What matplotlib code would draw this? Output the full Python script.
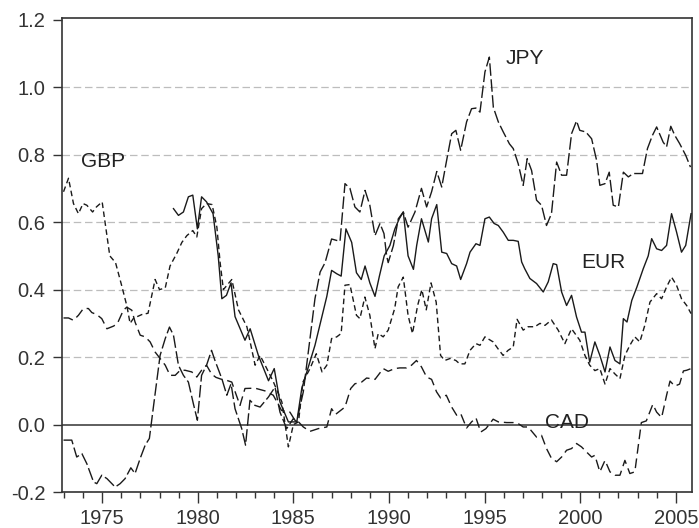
import matplotlib
matplotlib.use("Agg")
import matplotlib.pyplot as plt
from matplotlib.ticker import MultipleLocator, FixedLocator

plt.rcParams['font.family'] = ['Liberation Sans', 'DejaVu Sans']

# values
gbp_years = [1972.98, 1973.24, 1973.5, 1973.76, 1974.0, 1974.2, 1974.5, 1974.7, 1975.0, 1975.4,
             1975.7, 1976.03, 1976.3, 1976.46, 1976.64, 1977.07, 1977.4, 1977.77, 1978.0, 1978.3,
             1978.55, 1978.9, 1979.17, 1979.43, 1979.74, 1979.95, 1980.2, 1980.46, 1980.75, 1981.0,
             1981.17, 1981.34, 1981.78, 1982.13, 1982.57, 1983.0, 1983.26, 1983.7, 1983.96, 1984.4,
             1984.74, 1985.0, 1985.27, 1985.5, 1985.87, 1986.2, 1986.5, 1986.75, 1987.0, 1987.27,
             1987.5, 1987.7, 1987.96, 1988.3, 1988.48, 1988.74, 1989.0, 1989.27, 1989.44, 1989.7,
             1989.96, 1990.3, 1990.48, 1990.75, 1991.0, 1991.23, 1991.5, 1991.72, 1991.95, 1992.2,
             1992.47, 1992.7, 1992.92, 1993.2, 1993.5, 1993.7, 1993.97, 1994.24, 1994.55, 1994.76,
             1995.02, 1995.45, 1995.7, 1995.97, 1996.23, 1996.5, 1996.7, 1997.02, 1997.28, 1997.63,
             1997.9, 1998.16, 1998.5, 1998.85, 1999.2, 1999.55, 1999.98, 2000.25, 2000.5, 2000.77,
             2001.03, 2001.3, 2001.56, 2001.82, 2002.08, 2002.34, 2002.6, 2002.86, 2003.12, 2003.38,
             2003.65, 2004.0, 2004.26, 2004.52, 2004.78, 2005.04, 2005.3, 2005.57, 2005.8]
gbp = [0.69, 0.73, 0.655, 0.625, 0.655, 0.65, 0.63, 0.645, 0.66, 0.50,
       0.48, 0.41, 0.35, 0.30, 0.315, 0.326, 0.33, 0.43, 0.40, 0.405,
       0.47, 0.507, 0.54, 0.56, 0.575, 0.556, 0.64, 0.655, 0.652, 0.585,
       0.48, 0.40, 0.43, 0.34, 0.29, 0.176, 0.205, 0.156, 0.126, 0.067,
       -0.066, 0.0, 0.008, 0.126, 0.166, 0.21, 0.156, 0.176, 0.255, 0.26,
       0.27, 0.413, 0.415, 0.324, 0.314, 0.378, 0.324, 0.225, 0.27, 0.26,
       0.28, 0.344, 0.408, 0.437, 0.324, 0.27, 0.353, 0.40, 0.34, 0.42,
       0.363, 0.205, 0.19, 0.196, 0.19, 0.18, 0.18, 0.22, 0.24, 0.235,
       0.26, 0.245, 0.225, 0.205, 0.22, 0.23, 0.312, 0.28, 0.29, 0.29,
       0.30, 0.294, 0.31, 0.28, 0.24, 0.284, 0.25, 0.205, 0.176, 0.16,
       0.166, 0.12, 0.166, 0.15, 0.136, 0.205, 0.235, 0.26, 0.245, 0.294,
       0.363, 0.388, 0.373, 0.408, 0.437, 0.413, 0.373, 0.353, 0.329]

eur_years = [1978.73, 1978.99, 1979.25, 1979.51, 1979.74, 1979.98, 1980.2, 1980.46, 1980.8, 1981.07,
             1981.26, 1981.5, 1981.74, 1981.95, 1982.47, 1982.74, 1983.17, 1983.7, 1984.0, 1984.3,
             1984.74, 1985.18, 1985.44, 1986.13, 1986.75, 1987.0, 1987.27, 1987.5, 1987.75, 1988.05,
             1988.3, 1988.55, 1988.75, 1989.0, 1989.27, 1989.5, 1989.75, 1990.05, 1990.31, 1990.54,
             1990.75, 1991.0, 1991.28, 1991.45, 1991.7, 1992.06, 1992.23, 1992.5, 1992.76, 1993.02,
             1993.28, 1993.54, 1993.75, 1994.06, 1994.24, 1994.55, 1994.76, 1995.02, 1995.25, 1995.5,
             1995.72, 1995.98, 1996.24, 1996.5, 1996.76, 1996.94, 1997.1, 1997.37, 1997.72, 1998.07,
             1998.33, 1998.59, 1998.77, 1999.03, 1999.29, 1999.55, 1999.81, 2000.07, 2000.25, 2000.5,
             2000.77, 2001.03, 2001.3, 2001.56, 2001.82, 2002.08, 2002.26, 2002.45, 2002.7, 2002.97,
             2003.3, 2003.56, 2003.74, 2004.0, 2004.26, 2004.52, 2004.78, 2005.04, 2005.3, 2005.52,
             2005.8]
eur = [0.64, 0.62, 0.63, 0.675, 0.68, 0.58, 0.675, 0.66, 0.625, 0.50,
       0.373, 0.383, 0.42, 0.32, 0.25, 0.284, 0.205, 0.13, 0.166, 0.067,
       0.008, 0.008, 0.107, 0.235, 0.38, 0.457, 0.447, 0.44, 0.58, 0.54,
       0.45, 0.43, 0.47, 0.42, 0.38, 0.44, 0.50, 0.531, 0.58, 0.61,
       0.63, 0.50, 0.46, 0.531, 0.61, 0.541, 0.61, 0.652, 0.511, 0.507,
       0.477, 0.47, 0.43, 0.477, 0.511, 0.536, 0.531, 0.61, 0.615, 0.596,
       0.59, 0.57, 0.546, 0.546, 0.543, 0.482, 0.462, 0.433, 0.418, 0.393,
       0.423, 0.477, 0.474, 0.393, 0.353, 0.383, 0.319, 0.274, 0.274, 0.185,
       0.245, 0.205, 0.156, 0.23, 0.19, 0.18, 0.314, 0.304, 0.368, 0.408,
       0.462, 0.50, 0.551, 0.521, 0.516, 0.531, 0.625, 0.571, 0.511, 0.531,
       0.625]

jpy_years = [1972.98, 1973.41, 1973.67, 1973.94, 1974.2, 1974.55, 1974.72, 1974.98, 1975.25, 1975.68,
             1975.94, 1976.2, 1976.5, 1976.72, 1976.99, 1977.25, 1977.47, 1977.68, 1978.03, 1978.3,
             1978.52, 1978.73, 1978.99, 1979.25, 1979.51, 1979.77, 1979.98, 1980.2, 1980.46, 1980.72,
             1980.9, 1981.26, 1981.52, 1981.74, 1981.95, 1982.3, 1982.5, 1982.73, 1982.99, 1983.26,
             1983.7, 1984.04, 1984.3, 1984.65, 1985.0, 1985.17, 1985.52, 1985.87, 1986.13, 1986.4,
             1986.66, 1987.0, 1987.44, 1987.7, 1987.96, 1988.22, 1988.48, 1988.75, 1989.0, 1989.27,
             1989.53, 1989.74, 1989.88, 1989.96, 1990.23, 1990.49, 1990.75, 1991.0, 1991.36, 1991.7,
             1991.97, 1992.23, 1992.5, 1992.76, 1993.0, 1993.28, 1993.5, 1993.75, 1994.06, 1994.32,
             1994.55, 1994.76, 1995.02, 1995.25, 1995.46, 1995.72, 1995.98, 1996.3, 1996.5, 1996.76,
             1997.02, 1997.23, 1997.46, 1997.72, 1997.98, 1998.24, 1998.5, 1998.77, 1999.03, 1999.29,
             1999.55, 1999.81, 1999.98, 2000.3, 2000.6, 2000.86, 2001.03, 2001.3, 2001.52, 2001.73,
             2002.0, 2002.26, 2002.52, 2002.78, 2003.26, 2003.52, 2003.78, 2004.0, 2004.34, 2004.52,
             2004.74, 2004.95, 2005.2, 2005.52, 2005.77]
jpy = [-0.046, -0.046, -0.096, -0.086, -0.116, -0.17, -0.175, -0.15, -0.16, -0.185,
       -0.175, -0.16, -0.128, -0.145, -0.10, -0.061, -0.041, 0.052, 0.205, 0.255,
       0.289, 0.265, 0.176, 0.146, 0.126, 0.062, 0.013, 0.146, 0.176, 0.22,
       0.19, 0.136, 0.087, 0.121, 0.047, -0.012, -0.061, 0.072, 0.057, 0.052,
       0.082, 0.111, 0.037, -0.012, 0.018, 0.008, 0.097, 0.255, 0.373, 0.452,
       0.48, 0.55, 0.543, 0.714, 0.70, 0.645, 0.63, 0.694, 0.65, 0.56,
       0.596, 0.566, 0.50, 0.48, 0.53, 0.61, 0.63, 0.585, 0.63, 0.70,
       0.645, 0.69, 0.75, 0.704, 0.778, 0.862, 0.872, 0.813, 0.897, 0.936,
       0.938, 0.926, 1.045, 1.089, 0.94, 0.897, 0.867, 0.832, 0.818, 0.773,
       0.709, 0.788, 0.753, 0.665, 0.65, 0.59, 0.625, 0.778, 0.739, 0.739,
       0.862, 0.90, 0.872, 0.867, 0.847, 0.783, 0.709, 0.714, 0.748, 0.65,
       0.645, 0.748, 0.734, 0.744, 0.744, 0.818, 0.857, 0.882, 0.837, 0.823,
       0.884, 0.857, 0.833, 0.798, 0.763]

cad_years = [1972.98, 1973.24, 1973.5, 1973.76, 1974.02, 1974.28, 1974.46, 1974.72, 1974.98, 1975.25,
             1975.6, 1975.8, 1976.11, 1976.29, 1976.55, 1976.72, 1976.99, 1977.25, 1977.51, 1977.77,
             1978.03, 1978.3, 1978.55, 1978.82, 1979.08, 1979.34, 1979.69, 1979.95, 1980.2, 1980.46,
             1980.72, 1980.95, 1981.2, 1981.52, 1981.78, 1982.0, 1982.21, 1982.47, 1982.99, 1983.51,
             1983.95, 1984.38, 1984.82, 1985.08, 1985.27, 1985.52, 1985.87, 1986.3, 1986.75, 1987.0,
             1987.2, 1987.7, 1988.0, 1988.22, 1988.57, 1988.83, 1989.1, 1989.27, 1989.7, 1989.96,
             1990.3, 1990.57, 1990.92, 1991.18, 1991.44, 1991.7, 1991.97, 1992.23, 1992.49, 1992.7,
             1993.0, 1993.28, 1993.54, 1993.75, 1994.06, 1994.32, 1994.55, 1994.8, 1995.07, 1995.45,
             1995.72, 1996.16, 1996.5, 1996.76, 1997.02, 1997.28, 1997.72, 1997.98, 1998.24, 1998.5,
             1998.77, 1999.03, 1999.29, 1999.55, 1999.81, 2000.07, 2000.33, 2000.6, 2000.77, 2001.03,
             2001.3, 2001.56, 2001.82, 2002.08, 2002.34, 2002.6, 2002.86, 2003.2, 2003.46, 2003.8,
             2004.0, 2004.26, 2004.52, 2004.7, 2004.95, 2005.2, 2005.4, 2005.57, 2005.8]
cad = [0.316, 0.316, 0.309, 0.324, 0.344, 0.344, 0.332, 0.326, 0.314, 0.284,
       0.292, 0.30, 0.339, 0.348, 0.339, 0.304, 0.265, 0.26, 0.245, 0.215,
       0.196, 0.176, 0.146, 0.146, 0.161, 0.161, 0.156, 0.141, 0.161, 0.176,
       0.15, 0.14, 0.135, 0.131, 0.126, 0.09, 0.057, 0.107, 0.108, 0.10,
       0.087, 0.042, 0.037, 0.013, 0.008, -0.007, -0.02, -0.012, -0.007, 0.047,
       0.03, 0.052, 0.107, 0.121, 0.126, 0.138, 0.136, 0.134, 0.166, 0.158,
       0.166, 0.168, 0.168, 0.176, 0.19, 0.171, 0.141, 0.134, 0.097, 0.079,
       0.087, 0.052, 0.028, 0.033, -0.01, 0.008, 0.02, -0.022, -0.012, 0.016,
       0.008, 0.006, 0.006, 0.003, -0.007, -0.007, -0.037, -0.032, -0.071, -0.10,
       -0.11, -0.096, -0.076, -0.071, -0.056, -0.066, -0.081, -0.096, -0.091, -0.14,
       -0.106, -0.14, -0.15, -0.15, -0.106, -0.145, -0.14, 0.006, 0.011, 0.06,
       0.037, 0.021, 0.087, 0.129, 0.114, 0.12, 0.159, 0.161, 0.166]

y_ticks = [-0.2, 0.0, 0.2, 0.4, 0.6, 0.8, 1.0, 1.2]
y_labels = ['-0.2', '0.0', '0.2', '0.4', '0.6', '0.8', '1.0', '1.2']
x_ticks = [1975, 1980, 1985, 1990, 1995, 2000, 2005]

ink = '#1a1a1a'
fig = plt.figure(figsize=(6.99, 5.28), dpi=100)
ax = fig.add_axes([0.0887, 0.068, 0.9013, 0.898])

for y in [0.2, 0.4, 0.6, 0.8, 1.0, -0.2]:
    ax.axhline(y, color='#bdbdbd', lw=0.9, ls=(0, (6, 3)), zorder=1)
ax.axhline(0.0, color='#333333', lw=1.1, zorder=1)

ax.plot(gbp_years, gbp, color=ink, lw=1.0, ls=(0, (4, 2.5)), zorder=3)
ax.plot(eur_years, eur, color=ink, lw=1.0, ls='-', zorder=3)
ax.plot(jpy_years, jpy, color=ink, lw=1.0, ls=(0, (9, 2.5)), zorder=3)
ax.plot(cad_years, cad, color=ink, lw=1.0, ls=(0, (7, 3.5)), zorder=3)

lab = dict(fontsize=15, color='#222222', ha='center', va='center', zorder=4)
ax.text(1975.03, 0.779, 'GBP', **lab)
ax.text(1997.11, 1.086, 'JPY', **lab)
ax.text(2001.24, 0.48, 'EUR', **lab)
ax.text(1999.29, 0.007, 'CAD', **lab)

ax.set_xlim(1972.9, 2005.85)
ax.set_ylim(-0.2, 1.205)
ax.set_yticks(y_ticks)
ax.set_yticklabels(y_labels)
ax.set_xticks(x_ticks)
ax.xaxis.set_minor_locator(FixedLocator(range(1973, 2006)))

for s in ax.spines.values():
    s.set_color('#333333')
    s.set_linewidth(1.2)
ax.tick_params(axis='y', which='major', direction='out', length=6.5, width=1.0,
               color='#333333', labelsize=14.5, labelcolor='#333333', pad=5.5)
ax.tick_params(axis='x', which='major', direction='out', length=8, width=1.0,
               color='#333333', labelsize=14.5, labelcolor='#333333', pad=4)
ax.tick_params(axis='x', which='minor', direction='out', length=4.5, width=1.0,
               color='#333333')

fig.savefig('out.png', dpi=100)
